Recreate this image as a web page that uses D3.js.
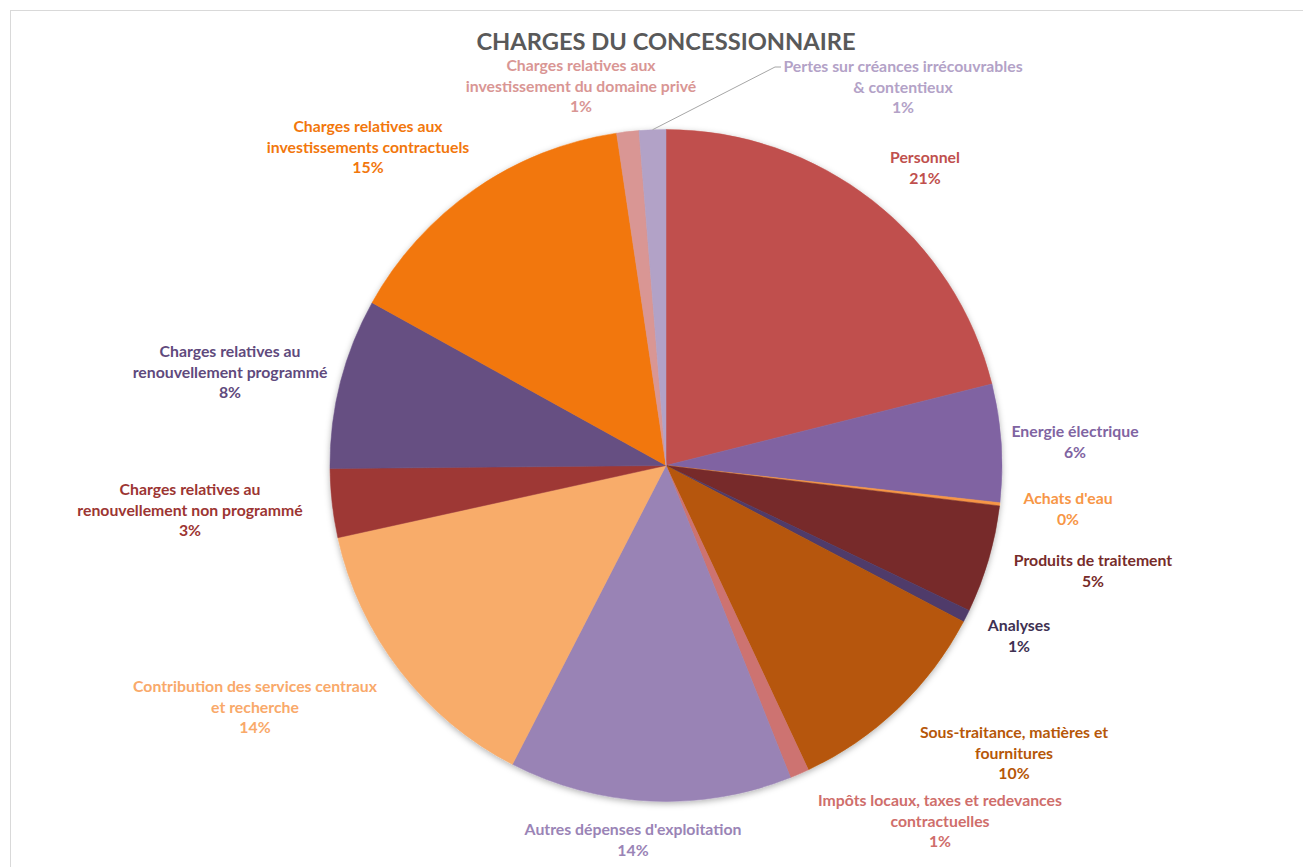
<!DOCTYPE html>
<html>
<head>
<meta charset="utf-8">
<script src="https://cdn.jsdelivr.net/npm/d3@7"></script>
<style>
  body { margin: 0; background: #fff; }
  text { font-family: Lato, "Open Sans", sans-serif; font-weight: bold; }
</style>
</head>
<body>
<div id="chart"></div>
<script>
// categories (line breaks as in the original labels)
var categories = [
  "Personnel",
  "Energie électrique",
  "Achats d'eau",
  "Produits de traitement",
  "Analyses",
  "Sous-traitance, matières et\nfournitures",
  "Impôts locaux, taxes et redevances\ncontractuelles",
  "Autres dépenses d'exploitation",
  "Contribution des services centraux\net recherche",
  "Charges relatives au\nrenouvellement non programmé",
  "Charges relatives au\nrenouvellement programmé",
  "Charges relatives aux\ninvestissements contractuels",
  "Charges relatives aux\ninvestissement du domaine privé",
  "Pertes sur créances irrécouvrables\n& contentieux"
];
// share of total (%)
var values = [21.1, 5.67, 0.15, 5.18, 0.6, 10.34, 0.92, 13.6, 14.0, 3.3, 8.2, 14.6, 1.07, 1.28];

var sliceColors = ["#C0504D", "#8064A2", "#F79646", "#772C2A", "#4F3B6A", "#B65708", "#CD7371",
  "#9983B5", "#F8AC6B", "#9E3936", "#664F82", "#F2770C", "#D99694", "#B2A2C7"];
var labelColors = ["#C0504D", "#8064A2", "#F79646", "#772C2A", "#403152", "#B65708", "#CF6E6B",
  "#9A84B6", "#F9A96A", "#9C3532", "#5F4A7D", "#F2770C", "#D99694", "#B3A2C7"];

// label block centres (Excel best-fit placement)
var labelXY = [[925, 168], [1075, 442], [1068, 509], [1093, 571], [1019, 636], [1014, 753],
  [940, 821], [633, 840], [255, 707], [190, 510], [230, 372], [368, 147], [581, 86], [903, 87]];

var width = 1303, height = 867;
var cx = 666, cy = 465.5, radius = 336;

var svg = d3.select("#chart")
  .append("svg")
    .attr("width", width)
    .attr("height", height);

svg.append("rect")
  .attr("x", 10.5).attr("y", 10.5)
  .attr("width", 1400).attr("height", 1000)
  .style("fill", "none")
  .style("stroke", "#d9d9d9");

var defs = svg.append("defs");
var f = defs.append("filter").attr("id", "shadow")
  .attr("x", "-10%").attr("y", "-10%").attr("width", "120%").attr("height", "120%");
f.append("feDropShadow")
  .attr("dx", 0).attr("dy", 2).attr("stdDeviation", 3)
  .attr("flood-color", "#000").attr("flood-opacity", 0.3);

svg.append("text")
  .attr("x", cx)
  .attr("y", 50)
  .attr("text-anchor", "middle")
  .style("font-size", "23.7px")
  .style("fill", "#595959")
  .text("CHARGES DU CONCESSIONNAIRE");

var total = d3.sum(values);
var pie = d3.pie().sort(null).value(function(d) { return d; });
var arcs = pie(values);
var arc = d3.arc().innerRadius(0).outerRadius(radius);

var g = svg.append("g")
  .attr("transform", "translate(" + cx + "," + cy + ")");

g.append("g")
  .attr("filter", "url(#shadow)")
  .selectAll("path")
  .data(arcs)
  .enter()
  .append("path")
    .attr("d", arc)
    .style("fill", function(d, i) { return sliceColors[i]; })
    .style("stroke", function(d, i) { return sliceColors[i]; })
    .style("stroke-width", 0.5);

// leader line for the last (tiny) slice
var last = arcs[arcs.length - 1];
var mid = (last.startAngle + last.endAngle) / 2;
var lp = labelXY[labelXY.length - 1];
svg.append("path")
  .attr("d", d3.line()([
    [cx + radius * Math.sin(mid), cy - radius * Math.cos(mid)],
    [lp[0] - 128, lp[1] - 20],
    [lp[0] - 122, lp[1] - 20]
  ]))
  .style("fill", "none")
  .style("stroke", "#a6a6a6")
  .style("stroke-width", 1);

var lineH = 20.5;
var labels = svg.selectAll(".lbl")
  .data(arcs)
  .enter()
  .append("text")
    .attr("class", "lbl")
    .attr("text-anchor", "middle")
    .style("font-size", "15.8px")
    .style("fill", function(d, i) { return labelColors[i]; });

labels.each(function(d, i) {
  var lines = categories[i].split("\n");
  lines.push(Math.round(d.value / total * 100) + "%");
  var y0 = labelXY[i][1] - (lines.length - 1) * lineH / 2;
  d3.select(this).selectAll("tspan")
    .data(lines)
    .enter()
    .append("tspan")
      .attr("x", labelXY[i][0])
      .attr("y", function(t, k) { return y0 + k * lineH; })
      .attr("dy", "0.35em")
      .text(function(t) { return t; });
});
</script>
</body>
</html>
